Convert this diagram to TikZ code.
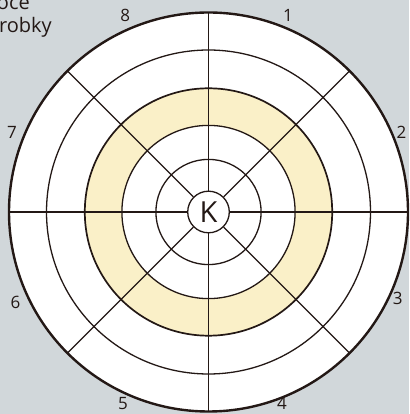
\documentclass[tikz,border=0pt]{standalone}
\usepackage{fontspec}
\setmainfont{Open Sans}
\usetikzlibrary{calc}
\definecolor{bggray}{HTML}{D1D7DA}
\definecolor{ringyellow}{HTML}{FAF0C8}
\definecolor{inkdark}{HTML}{231815}

\begin{document}
\begin{tikzpicture}[
  x=1pt, y=1pt,
  ring/.style={draw=inkdark, line width=1.3pt},
  spoke/.style={draw=inkdark, line width=1.2pt},
  num/.style={text=inkdark, font=\fontsize{17}{17}\selectfont, inner sep=0pt},
  captext/.style={text=inkdark, font=\fontsize{20}{24}\selectfont, inner sep=0pt, anchor=base east},
]
\fill[bggray] (0,0) rectangle (409,414);
\useasboundingbox (0,0) rectangle (409,414);
\coordinate (ctr) at (208.5,202);

% white disc, yellow band
\fill[white] (ctr) circle (199.5);
\fill[ringyellow, even odd rule] (ctr) circle (123.7) (ctr) circle (86.6);

% rings
\foreach \r in {52.6,86.6,162} {
  \draw[ring] (ctr) circle (\r);
}
\draw[ring, line width=1.7pt] (ctr) circle (123.7);

% centre and spokes
\node[draw=inkdark, line width=1.3pt, fill=white, circle, minimum size=41.6pt,
      inner sep=0pt, font=\fontsize{29}{29}\selectfont, text=inkdark] (K) at (ctr) {K};
\foreach \a in {0,45,...,315} {
  \coordinate (o\a) at ($(ctr)+(\a:199)$);
  \draw[spoke] (K.\a) -- (o\a);
}
\draw[ring, line width=2.4pt] (ctr) circle (199.5);

% sector numbers
\foreach \n/\a/\r in {1/68/212,2/22.5/209,3/-24.5/208,4/-69/205,5/-114/210,6/-155/213,7/158/212,8/113/213} {
  \node[num] (n\n) at ($(ctr)+(\a:\r)$) {\n};
}

% caption, cut at the left edge
\node[captext] (capa) at (30,404) {oce};
\node[captext] (capb) at (52,381) {robky};
\end{tikzpicture}
\end{document}
